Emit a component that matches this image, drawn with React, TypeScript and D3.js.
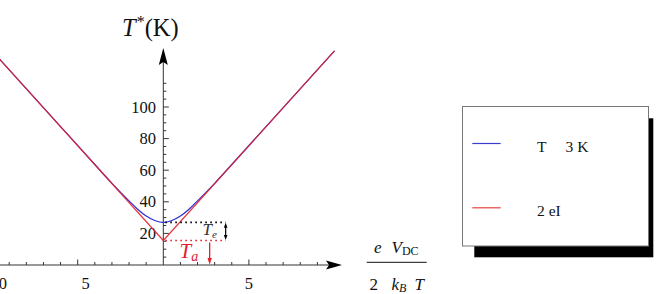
import React from "react";
import * as d3 from "d3";

// ---- data ----
const redX = [-10, 0, 10];
const redT = [135.5, 15.5, 135.5];
const blueX = [-10, -6, -4, -3, -2, -1.5, -1, -0.5, 0, 0.5, 1, 1.5, 2, 3, 4, 6, 10];
const blueT = [135.5, 87.6, 63.6, 51.7, 40.6, 35.3, 31.0, 28.2, 27.0, 28.2, 31.0, 35.3, 40.6, 51.7, 63.6, 87.6, 135.5];
const xMinorTicks = [-9, -8, -7, -6, -4, -3, -2, -1, 1, 2, 3, 4, 6, 7, 8, 9];
const xMajorTicks = [-10, -5, 5];
const yMinorTicks = [5, 10, 15, 25, 30, 35, 45, 50, 55, 65, 70, 75, 85, 90, 95, 105, 110, 115];
const yMajorTicks = [20, 40, 60, 80, 100];
const Ta = 15.5;
const Tmin = 27.0;
const markerX = 3; // dotted lines end / arrows
const legendLabels = ["T", "3 K", "2 eI"];

const W = 657;
const H = 294;
const serif = "'Liberation Serif', 'Times New Roman', serif";

export default function App() {
  const x = d3.scaleLinear().domain([0, 10]).range([163.3, 334.5]);
  const y = d3.scaleLinear().domain([0, 100]).range([265, 107]);
  const x0 = x(0);
  const y0 = y(0);

  const red = d3
    .line<number>()
    .x((_, i) => x(redX[i]))
    .y((_, i) => y(redT[i]));
  const blue = d3
    .line<number>()
    .x((_, i) => x(blueX[i]))
    .y((_, i) => y(blueT[i]))
    .curve(d3.curveMonotoneX);

  const dotEnd = x(markerX) + 11;
  const teArrowX = x(markerX) + 11;
  const taArrowX = x(markerX) - 5;

  return (
    <svg
      width={W}
      height={H}
      style={{ position: "absolute", left: 0, top: 0, background: "#fff" }}
      fontFamily={serif}
    >
      <defs>
        <clipPath id="plotclip">
          <rect x={0} y={0} width={W} height={H} />
        </clipPath>
      </defs>

      {/* x axis */}
      <line x1={0} x2={330} y1={y0} y2={y0} stroke="#333" strokeWidth={1} />
      <path d={`M${342},${y0} L${326},${y0 - 4.5} L${329},${y0} L${326},${y0 + 4.5} Z`} fill="#000" />
      {xMinorTicks.map((t) => (
        <line key={"xm" + t} x1={x(t)} x2={x(t)} y1={y0} y2={y0 - 3} stroke="#333" />
      ))}
      {xMajorTicks.map((t) => (
        <line key={"xM" + t} x1={x(t)} x2={x(t)} y1={y0} y2={y0 - 5.5} stroke="#333" />
      ))}
      {xMajorTicks.map((t) => (
        <text
          key={"xl" + t}
          x={t < 0 ? x(t) + (t < -9 ? 15 : 12) : x(t)}
          y={288.5}
          fontSize={16.5}
          textAnchor={t < 0 ? "end" : "middle"}
          fill="#111"
        >
          {t < -9 ? String(Math.abs(t)).slice(1) : String(Math.abs(t))}
        </text>
      ))}

      {/* y axis */}
      <line x1={x0} x2={x0} y1={y0} y2={62} stroke="#333" strokeWidth={1} />
      <path d={`M${x0},${48} L${x0 - 4.5},${65} L${x0},${62} L${x0 + 4.5},${65} Z`} fill="#000" />
      {yMinorTicks.map((t) => (
        <line key={"ym" + t} x1={x0} x2={x0 + 3} y1={y(t)} y2={y(t)} stroke="#333" />
      ))}
      {yMajorTicks.map((t) => (
        <line key={"yM" + t} x1={x0} x2={x0 + 5.5} y1={y(t)} y2={y(t)} stroke="#333" />
      ))}
      {yMajorTicks.map((t) => (
        <text key={"yl" + t} x={156} y={y(t) + 5.5} fontSize={16.5} textAnchor="end" fill="#111">
          {String(t)}
        </text>
      ))}

      {/* y axis title */}
      <text x={122} y={36} fontSize={24.5} fill="#111">
        <tspan fontStyle="italic">T</tspan>
        <tspan fontSize={16} dy={-9} dx={1}>*</tspan>
        <tspan dy={9}>(K)</tspan>
      </text>

      {/* curves */}
      <g clipPath="url(#plotclip)">
        <path d={blue(blueX) || ""} fill="none" stroke="#2b2bd6" strokeWidth={1.2} />
        <path d={red(redX) || ""} fill="none" stroke="#e3202c" strokeWidth={1.2} strokeOpacity={0.9} />
      </g>

      {/* dotted guides */}
      <line x1={x0 + 2} x2={dotEnd} y1={y(Tmin)} y2={y(Tmin)} stroke="#000" strokeWidth={1.6} strokeDasharray="1.6,3.4" />
      <line x1={x0 + 2} x2={dotEnd} y1={y(Ta)} y2={y(Ta)} stroke="#e3202c" strokeWidth={1.6} strokeDasharray="1.6,3.4" />

      {/* Te double arrow */}
      <line x1={teArrowX} x2={teArrowX} y1={y(Tmin) + 4} y2={y(Ta) - 4} stroke="#000" strokeWidth={1.2} />
      <path d={`M${teArrowX},${y(Tmin) + 0.5} L${teArrowX - 1.8},${y(Tmin) + 5.5} L${teArrowX + 1.8},${y(Tmin) + 5.5} Z`} fill="#000" />
      <path d={`M${teArrowX},${y(Ta) - 0.5} L${teArrowX - 1.8},${y(Ta) - 5.5} L${teArrowX + 1.8},${y(Ta) - 5.5} Z`} fill="#000" />
      <text x={202.5} y={235} fontSize={17} fill="#333" fontStyle="italic">
        T<tspan fontSize={11} dy={3}>e</tspan>
      </text>

      {/* Ta arrow */}
      <line x1={taArrowX} x2={taArrowX} y1={y(Ta) + 2} y2={y0 - 5} stroke="#e3202c" strokeWidth={1.3} />
      <path d={`M${taArrowX},${y0 - 0.5} L${taArrowX - 2.2},${y0 - 7} L${taArrowX + 2.2},${y0 - 7} Z`} fill="#e3202c" />
      <text x={179.5} y={258} fontSize={21} fill="#e3202c" fontStyle="italic">
        T<tspan fontSize={14} dy={3}>a</tspan>
      </text>

      {/* x axis title: fraction */}
      <text x={374} y={252.5} fontSize={17} fill="#111">
        <tspan fontStyle="italic">e</tspan>
      </text>
      <text x={391.5} y={252.5} fontSize={17} fill="#111">
        <tspan fontStyle="italic">V</tspan>
        <tspan fontSize={12} dy={2}>DC</tspan>
      </text>
      <line x1={366.7} x2={426.7} y1={262.3} y2={262.3} stroke="#111" strokeWidth={1} />
      <text x={369.5} y={290} fontSize={17} fill="#111">2</text>
      <text x={391.5} y={290} fontSize={17} fill="#111">
        <tspan fontStyle="italic">k</tspan>
        <tspan fontSize={12} dy={2} fontStyle="italic">B</tspan>
      </text>
      <text x={414.5} y={290} fontSize={17} fill="#111" fontStyle="italic">T</text>

      {/* legend */}
      <rect x={474.3} y={118.3} width={179} height={139} fill="#000" />
      <rect x={462.5} y={106.5} width={186} height={139.5} fill="#fff" stroke="#777" strokeWidth={1} />
      <line x1={472.3} x2={500.7} y1={143.5} y2={143.5} stroke="#3b3bd0" strokeWidth={1.2} />
      <line x1={472.3} x2={500.7} y1={207.8} y2={207.8} stroke="#e84040" strokeWidth={1.2} />
      <text x={537} y={152} fontSize={15.5} fill="#111">{legendLabels[0]}</text>
      <text x={565.5} y={152} fontSize={15.5} fill="#111">{legendLabels[1]}</text>
      <text x={537} y={216} fontSize={15.5} fill="#111">{legendLabels[2]}</text>
    </svg>
  );
}
